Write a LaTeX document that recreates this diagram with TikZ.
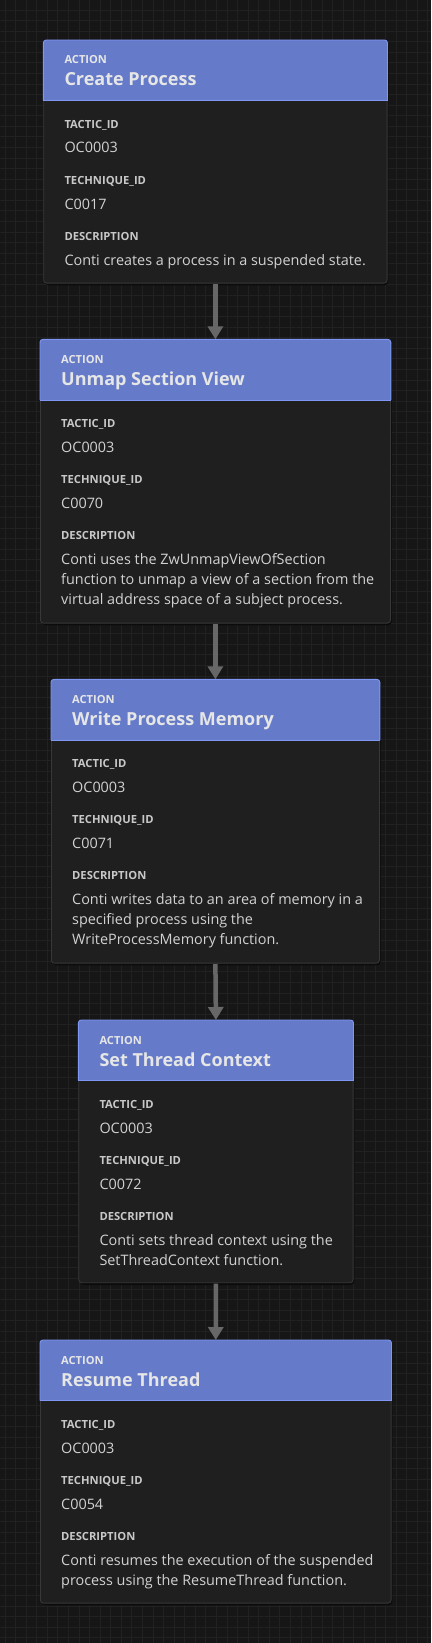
\documentclass[tikz,border=0pt]{standalone}
\usepackage{fontspec}
\setmainfont{Open Sans}
\usetikzlibrary{arrows.meta}
\definecolor{bgc}{HTML}{161616}
\definecolor{gridc}{HTML}{212121}
\definecolor{bodyc}{HTML}{1F1F1F}
\definecolor{borderc}{HTML}{383838}
\definecolor{hdrc}{HTML}{657BC9}
\definecolor{hdrline}{HTML}{7F97F2}
\definecolor{hdrtext}{HTML}{E6E6E6}
\definecolor{lbltext}{HTML}{C8C8C8}
\definecolor{valtext}{HTML}{D2D2D2}
\definecolor{connc}{HTML}{676767}
\definecolor{shadowc}{HTML}{0C0C0C}
\tikzset{
  boxbody/.style={rectangle, rounded corners=3pt, fill=bodyc, draw=borderc, line width=0.8pt, inner sep=0pt},
  shadowbox/.style={rectangle, rounded corners=4pt, fill=shadowc, inner sep=0pt},
  hdrlabel/.style={inner sep=0pt, anchor=base west, text=hdrtext, font=\fontsize{11.1}{13}\selectfont\bfseries},
  hdrtitle/.style={inner sep=0pt, anchor=base west, text=hdrtext, font=\fontsize{18}{20}\selectfont\bfseries},
  fieldlabel/.style={inner sep=0pt, anchor=base west, text=lbltext, font=\fontsize{11.2}{13}\selectfont\bfseries},
  fieldval/.style={inner sep=0pt, anchor=base west, text=valtext, font=\fontsize{14.4}{17}\selectfont},
  conn/.style={draw=connc, line width=4.5pt, -{Triangle[width=15pt,length=13pt]}, shorten <=0.5pt}
}
% #1 name, #2 left, #3 top, #4 width, #5 height, #6 title, #7 tactic, #8 technique, #9 description lines
\newcommand\actbox[9]{%
  \node[shadowbox, minimum width=#4, minimum height=#5, anchor=north west] (#1sh) at (#2+1.5,#3+2.5) {};
  \node[boxbody, minimum width=#4, minimum height=#5, anchor=north west] (#1) at (#2,#3) {};
  \begin{scope}
    \clip[rounded corners=3pt] (#1.north west) rectangle (#1.south east);
    \fill[hdrc] (#1.north west) rectangle ([yshift=-60.7pt]#1.north east);
  \end{scope}
  \draw[hdrline, line width=0.9pt, rounded corners=3pt] ([yshift=-60.7pt]#1.north west) -- (#1.north west) -- (#1.north east) -- ([yshift=-60.7pt]#1.north east);
  \draw[hdrline, line width=1pt] ([yshift=-60.7pt]#1.north west) -- ([yshift=-60.7pt]#1.north east);
  \node[hdrlabel] (#1ha) at ([xshift=21pt,yshift=-24pt]#1.north west) {ACTION};
  \node[hdrtitle] (#1ht) at ([xshift=21pt,yshift=-46pt]#1.north west) {#6};
  \node[fieldlabel] (#1la) at ([xshift=21pt,yshift=-88.5pt]#1.north west) {TACTIC\_ID};
  \node[fieldval] (#1va) at ([xshift=21pt,yshift=-113pt]#1.north west) {#7};
  \node[fieldlabel] (#1lb) at ([xshift=21pt,yshift=-144.5pt]#1.north west) {TECHNIQUE\_ID};
  \node[fieldval] (#1vb) at ([xshift=21pt,yshift=-169pt]#1.north west) {#8};
  \node[fieldlabel] (#1lc) at ([xshift=21pt,yshift=-200.5pt]#1.north west) {DESCRIPTION};
  \foreach \ln [count=\k] in {#9} {
    \node[fieldval] (#1d\k) at ([xshift=21pt,yshift={-225pt-20pt*(\k-1)}]#1.north west) {\ln};
  }
}
\begin{document}
\begin{tikzpicture}[x=1pt,y=-1pt]
\useasboundingbox (0,0) rectangle (431,1643);
\fill[bgc] (0,0) rectangle (431,1643);
\foreach \i in {0,...,40} { \draw[gridc, line width=0.8pt] (5+\i*10.57,0) -- (5+\i*10.57,1643); }
\foreach \j in {0,...,155} { \draw[gridc, line width=0.8pt] (0,10+\j*10.57) -- (431,10+\j*10.57); }

\actbox{b1}{43.3}{40}{343.4}{242.7}{Create Process}{OC0003}{C0017}{{Conti creates a process in a suspended state.}}
\actbox{b2}{40}{339.3}{350}{283.4}{Unmap Section View}{OC0003}{C0070}{{Conti uses the ZwUnmapViewOfSection},{function to unmap a view of a section from the},{virtual address space of a subject process.}}
\actbox{b3}{51}{679.3}{328}{283.4}{Write Process Memory}{OC0003}{C0071}{{Conti writes data to an area of memory in a},{specified process using the},{WriteProcessMemory function.}}
\actbox{b4}{78.3}{1020}{274.4}{262.3}{Set Thread Context}{OC0003}{C0072}{{Conti sets thread context using the},{SetThreadContext function.}}
\actbox{b5}{40}{1340}{350.7}{262.7}{Resume Thread}{OC0003}{C0054}{{Conti resumes the execution of the suspended},{process using the ResumeThread function.}}

\draw[conn] (b1.south) -- (b2.north);
\draw[conn] (b2.south) -- (b3.north);
\draw[conn] (b3.south) -- (b4.north);
\draw[conn] (b4.south) -- (b5.north);
\end{tikzpicture}
\end{document}
